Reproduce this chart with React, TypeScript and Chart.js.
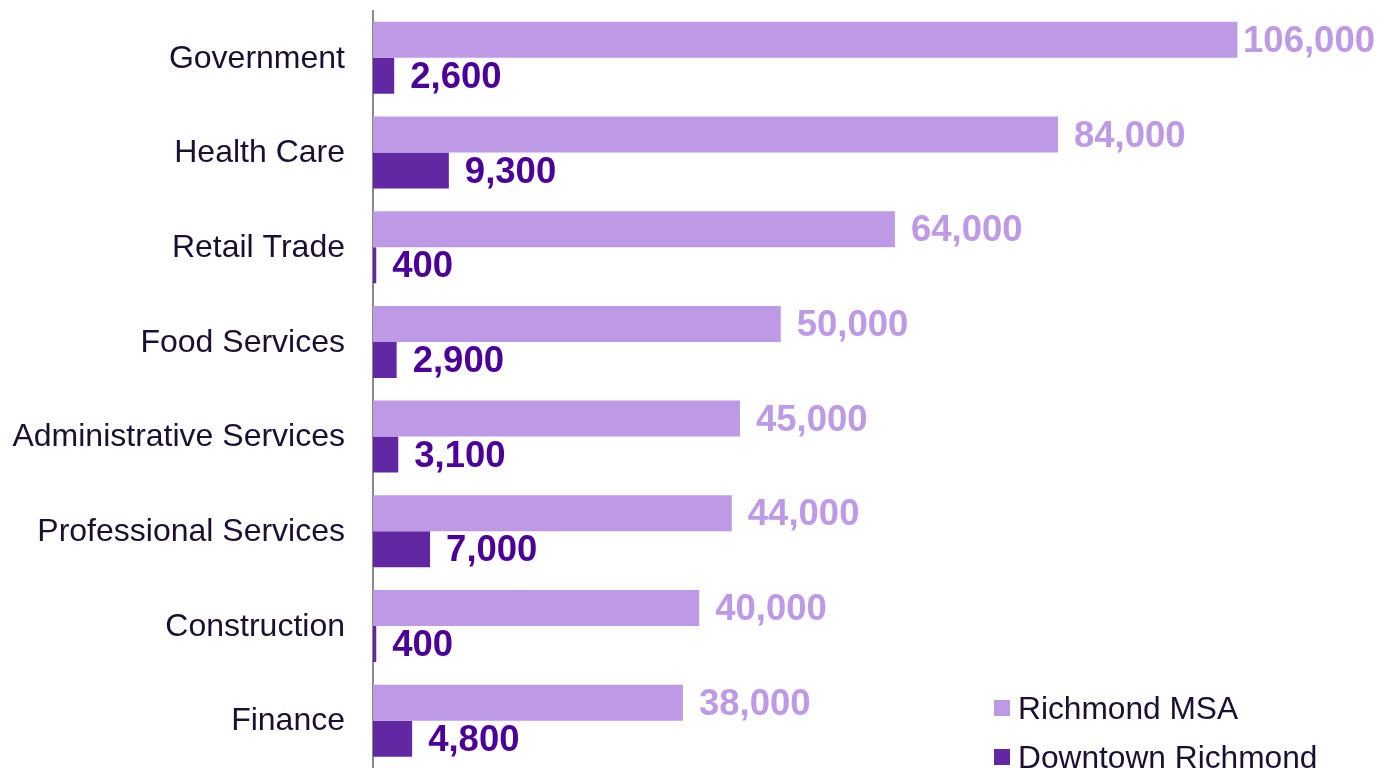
import React, { useEffect, useRef } from "react";
import { Chart, registerables } from "chart.js";

Chart.register(...registerables);

const categories = [
  "Government",
  "Health Care",
  "Retail Trade",
  "Food Services",
  "Administrative Services",
  "Professional Services",
  "Construction",
  "Finance",
];
const msaValues = [106000, 84000, 64000, 50000, 45000, 44000, 40000, 38000];
const downtownValues = [2600, 9300, 400, 2900, 3100, 7000, 400, 4800];
const seriesNames = ["Richmond MSA", "Downtown Richmond"];

const MSA_COLOR = "#BE9AE6";
const DT_COLOR = "#6227A2";
const MSA_LABEL = "#BE9AE6";
const DT_LABEL = "#4B009A";
const TEXT = "#1C0F30";
const FONT = "'Liberation Sans', Arial, sans-serif";

const labelPlugin = {
  id: "valueLabels",
  afterDatasetsDraw(chart: any) {
    const ctx = chart.ctx;
    ctx.save();
    ctx.font = `bold 36.5px ${FONT}`;
    ctx.textAlign = "left";
    ctx.textBaseline = "middle";
    chart.data.datasets.forEach((ds: any, di: number) => {
      const meta = chart.getDatasetMeta(di);
      ctx.fillStyle = di === 0 ? MSA_LABEL : DT_LABEL;
      meta.data.forEach((bar: any, i: number) => {
        const v = ds.data[i] as number;
        const txt = v.toLocaleString("en-US");
        const w = ctx.measureText(txt).width;
        let x = bar.x + 16;
        if (x + w > chart.width - 6) x = chart.width - 6 - w;
        ctx.fillText(txt, x, bar.y + 2);
      });
    });
    ctx.restore();
  },
};

const legendPlugin = {
  id: "customLegend",
  afterDraw(chart: any) {
    const ctx = chart.ctx;
    ctx.save();
    ctx.font = `31.7px ${FONT}`;
    ctx.textAlign = "left";
    ctx.textBaseline = "alphabetic";
    const items = [
      { name: seriesNames[0], color: MSA_COLOR, y: 719 },
      { name: seriesNames[1], color: DT_COLOR, y: 768 },
    ];
    items.forEach((it) => {
      ctx.fillStyle = it.color;
      ctx.fillRect(994, it.y - 19, 16, 16);
      ctx.fillStyle = TEXT;
      ctx.fillText(it.name, 1018, it.y);
    });
    ctx.restore();
  },
};

export default function App() {
  const ref = useRef<HTMLCanvasElement | null>(null);
  useEffect(() => {
    if (!ref.current) return;
    const chart = new Chart(ref.current, {
      type: "bar",
      data: {
        labels: categories,
        datasets: [
          {
            label: seriesNames[0],
            data: msaValues,
            backgroundColor: MSA_COLOR,
            categoryPercentage: 0.76,
            barPercentage: 1,
          },
          {
            label: seriesNames[1],
            data: downtownValues,
            backgroundColor: DT_COLOR,
            categoryPercentage: 0.76,
            barPercentage: 1,
          },
        ],
      },
      options: {
        indexAxis: "y",
        animation: false,
        responsive: false,
        maintainAspectRatio: false,
        layout: { padding: { top: 10.5, bottom: 0, left: 0, right: 29.4 } },
        plugins: {
          legend: { display: false },
          tooltip: { enabled: false },
        },
        scales: {
          x: {
            min: 0,
            max: 120000,
            display: false,
            grid: { display: false },
          },
          y: {
            grid: { display: false, drawTicks: false },
            border: { display: true, color: "#8A8A8A", width: 2 },
            ticks: {
              padding: 28,
              labelOffset: 1,
              color: TEXT,
              font: { family: FONT, size: 32 },
            },
            afterFit: (s: any) => {
              s.width = 373;
              s.paddingTop = 0;
              s.paddingBottom = 0;
            },
          },
        },
      },
      plugins: [labelPlugin, legendPlugin],
    });
    return () => chart.destroy();
  }, []);
  return (
    <div
      style={{
        position: "fixed",
        left: 0,
        top: 0,
        width: 1381,
        height: 768,
        overflow: "hidden",
        background: "#fff",
      }}
    >
      <canvas ref={ref} width={1381} height={768} style={{ display: "block" }} />
    </div>
  );
}
